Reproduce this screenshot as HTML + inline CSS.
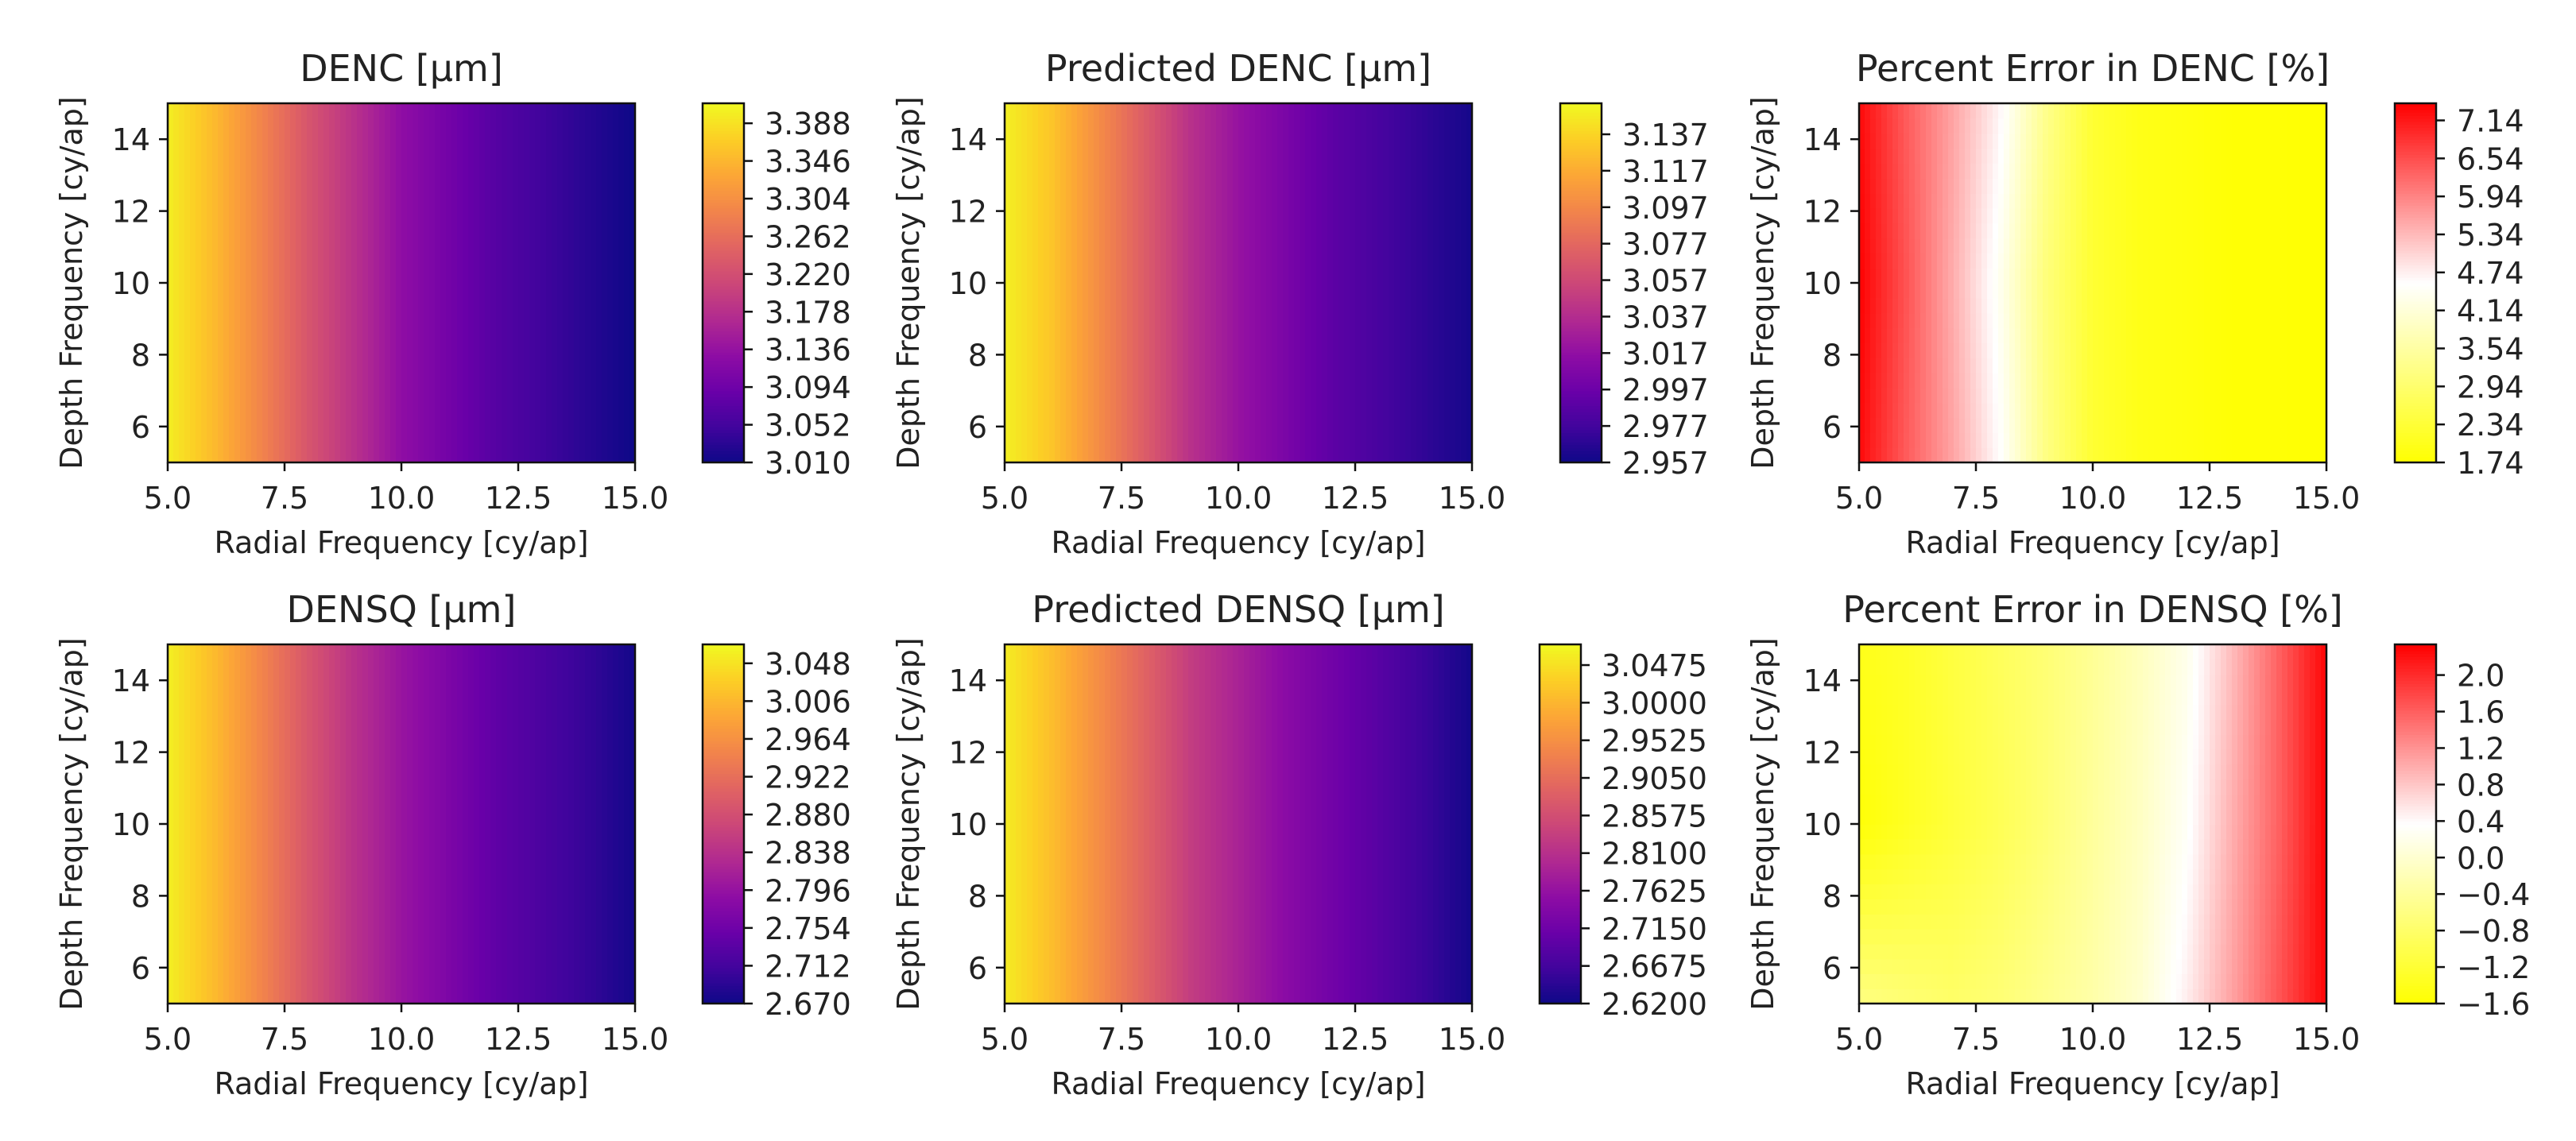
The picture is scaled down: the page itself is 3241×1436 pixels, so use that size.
<!DOCTYPE html>
<html><head><meta charset="utf-8"><style>
html,body{margin:0;padding:0;background:#fff;}
svg text{font-family:"DejaVu Sans","Liberation Sans",sans-serif;fill:#222;}
</style></head><body>
<svg id="fig" xmlns="http://www.w3.org/2000/svg" width="3241" height="1431" viewBox="0 0 3241 1431"></svg>
<script>
// ---- data ----
const radialFreq = [5,6,7,8,9,10,11,12,13,14,15];
const depthFreq = [5,10,15];
const dencValues = [
 [3.40,3.35,3.29,3.23,3.18,3.13,3.10,3.07,3.05,3.03,3.01],
 [3.40,3.35,3.29,3.23,3.18,3.13,3.10,3.07,3.05,3.03,3.01],
 [3.40,3.35,3.29,3.23,3.18,3.13,3.10,3.07,3.05,3.03,3.01]];
const predDencValues = [
 [3.15,3.13,3.10,3.07,3.04,3.02,3.005,2.99,2.98,2.97,2.96],
 [3.15,3.13,3.10,3.07,3.04,3.02,3.005,2.99,2.98,2.97,2.96],
 [3.15,3.13,3.10,3.07,3.04,3.02,3.005,2.99,2.98,2.97,2.96]];
const errDencValues = [
 [7.3,6.4,5.6,4.6,3.2,2.3,2.0,1.9,1.8,1.8,1.75],
 [7.4,6.5,5.5,4.4,3.1,2.3,2.0,1.9,1.8,1.8,1.75],
 [7.3,6.4,5.6,4.7,3.3,2.3,2.0,1.9,1.8,1.8,1.75]];
const densqValues = [
 [3.06,3.01,2.95,2.89,2.84,2.80,2.77,2.74,2.72,2.70,2.675],
 [3.06,3.01,2.95,2.89,2.84,2.80,2.77,2.74,2.72,2.70,2.675],
 [3.06,3.01,2.95,2.89,2.84,2.80,2.77,2.74,2.72,2.70,2.675]];
const predDensqValues = [
 [3.06,3.01,2.95,2.89,2.83,2.79,2.75,2.72,2.69,2.66,2.625],
 [3.06,3.01,2.95,2.89,2.83,2.79,2.75,2.72,2.69,2.66,2.625],
 [3.06,3.01,2.95,2.89,2.83,2.79,2.75,2.72,2.69,2.66,2.625]];
const errDensqValues = [
 [-0.6,-0.7,-0.8,-0.7,-0.5,-0.3,0.0,0.5,1.1,1.7,2.3],
 [-1.55,-1.35,-1.15,-0.95,-0.7,-0.4,-0.1,0.3,1.0,1.6,2.3],
 [-1.4,-1.3,-1.1,-0.9,-0.7,-0.45,-0.15,0.2,0.9,1.6,2.3]];
const cbTicksDenc = ["3.010","3.052","3.094","3.136","3.178","3.220","3.262","3.304","3.346","3.388"];
const cbTicksPredDenc = ["2.957","2.977","2.997","3.017","3.037","3.057","3.077","3.097","3.117","3.137"];
const cbTicksErrDenc = ["1.74","2.34","2.94","3.54","4.14","4.74","5.34","5.94","6.54","7.14"];
const cbTicksDensq = ["2.670","2.712","2.754","2.796","2.838","2.880","2.922","2.964","3.006","3.048"];
const cbTicksPredDensq = ["2.6200","2.6675","2.7150","2.7625","2.8100","2.8575","2.9050","2.9525","3.0000","3.0475"];
const cbTicksErrDensq = ["\u22121.6","\u22121.2","\u22120.8","\u22120.4","0.0","0.4","0.8","1.2","1.6","2.0"];
const xTicks = [5,7.5,10,12.5,15];
const yTicks = [6,8,10,12,14];

// ---- layout ----
const NS="http://www.w3.org/2000/svg";
const svg=document.getElementById('fig');
const PLASMA=["#0d0887","#41049d","#6a00a8","#8f0da4","#b12a90","#cc4778","#e16462","#f2844b","#fca636","#fcce25","#f0f921"];
const YWR=["#ffff00","#ffffff","#ff0000"];
function hex(c){return [parseInt(c.slice(1,3),16),parseInt(c.slice(3,5),16),parseInt(c.slice(5,7),16)];}
function cmap(stops,t){t=Math.max(0,Math.min(1,t));const n=stops.length-1;const i=Math.min(n-1,Math.floor(t*n));const f=t*n-i;const a=hex(stops[i]),b=hex(stops[i+1]);return 'rgb('+a.map((v,k)=>Math.round(v+(b[k]-v)*f)).join(',')+')';}
function el(tag,attrs,parent){const e=document.createElementNS(NS,tag);for(const k in attrs)e.setAttribute(k,attrs[k]);(parent||svg).appendChild(e);return e;}
function txt(s,attrs,parent){const e=el('text',attrs,parent);e.textContent=s;return e;}

const panels=[
 {name:'denc',title:'DENC [\u00b5m]',data:dencValues,ticks:cbTicksDenc,top:0.53,cm:PLASMA,px:211,py:130,cbx:884},
 {name:'predicted-denc',title:'Predicted DENC [\u00b5m]',data:predDencValues,ticks:cbTicksPredDenc,top:0.85,cm:PLASMA,px:1264,py:130,cbx:1963},
 {name:'percent-error-denc',title:'Percent Error in DENC [%]',data:errDencValues,ticks:cbTicksErrDenc,top:0.45,cm:YWR,px:2339,py:130,cbx:3013},
 {name:'densq',title:'DENSQ [\u00b5m]',data:densqValues,ticks:cbTicksDensq,top:0.5,cm:PLASMA,px:211,py:811,cbx:884},
 {name:'predicted-densq',title:'Predicted DENSQ [\u00b5m]',data:predDensqValues,ticks:cbTicksPredDensq,top:0.55,cm:PLASMA,px:1264,py:811,cbx:1937},
 {name:'percent-error-densq',title:'Percent Error in DENSQ [%]',data:errDensqValues,ticks:cbTicksErrDensq,top:0.84,cm:YWR,px:2339,py:811,cbx:3013}
];
const PW=588, PH=452, CBW=52;

function interp(arr,xs,x){for(let i=0;i<xs.length-1;i++){if(x<=xs[i+1]){const f=(x-xs[i])/(xs[i+1]-xs[i]);return arr[i]+(arr[i+1]-arr[i])*f;}}return arr[arr.length-1];}
function valueAt(data,x,y){const row=data.map(r=>interp(r,radialFreq,x));return interp(row,depthFreq,y);}

panels.forEach(p=>{
  const g=el('g',{});
  
  
  const xs=v=>p.px+(v-5)/10*PW;
  const ys=v=>p.py+PH-(v-5)/10*PH;
  const nt=p.ticks.length;
  const vmin=parseFloat(p.ticks[0].replace('\u2212','-'));
  const vstep=(parseFloat(p.ticks[nt-1].replace('\u2212','-'))-vmin)/(nt-1);
  const vmax=vmin+(nt-1+p.top)*vstep;
  const norm=v=>(v-vmin)/(vmax-vmin);
  // heatmap
  const hm=el('g',{'shape-rendering':'crispEdges'},g);
  
  
  const NX=84, NY=24;
  for(let j=0;j<NY;j++){
    const y0=5+j*10/NY, y1=5+(j+1)*10/NY;
    for(let i=0;i<NX;i++){
      const x0=5+i*10/NX, x1=5+(i+1)*10/NX;
      const v=valueAt(p.data,(x0+x1)/2,(y0+y1)/2);
      const r=el('rect',{x:xs(x0),y:ys(y1),width:xs(x1)-xs(x0)+0.8,height:ys(y0)-ys(y1)+0.8,fill:cmap(p.cm,norm(v))},hm);
      
      
    }
  }
  const fr=el('rect',{x:p.px,y:p.py,width:PW,height:PH,fill:'none',stroke:'#111','stroke-width':2.5},g);
  
  
  const t=txt(p.title,{x:p.px+PW/2,y:p.py-28,'text-anchor':'middle','font-size':46},g);
  
  
  xTicks.forEach(v=>{
    el('line',{x1:xs(v),x2:xs(v),y1:p.py+PH,y2:p.py+PH+11,stroke:'#111','stroke-width':2.5},g);
    const l=txt(v.toFixed(1),{x:xs(v),y:p.py+PH+58,'text-anchor':'middle','font-size':38},g);
    
    
  });
  yTicks.forEach(v=>{
    el('line',{x1:p.px-11,x2:p.px,y1:ys(v),y2:ys(v),stroke:'#111','stroke-width':2.5},g);
    const l=txt(String(v),{x:p.px-22,y:ys(v)+14,'text-anchor':'end','font-size':38},g);
    
    
  });
  const xl=txt('Radial Frequency [cy/ap]',{x:p.px+PW/2,y:p.py+PH+114,'text-anchor':'middle','font-size':38},g);
  
  
  const cyc=p.py+PH/2, cxx=p.px-108;
  const yl=txt('Depth Frequency [cy/ap]',{x:cxx,y:cyc,'text-anchor':'middle','font-size':38,transform:'rotate(-90 '+cxx+' '+cyc+')'},g);
  
  
  // colorbar
  const cb=el('g',{'shape-rendering':'crispEdges'},g);
  
  
  const NS_=120;
  for(let k=0;k<NS_;k++){
    const y0=p.py+PH-(k+1)*PH/NS_;
    el('rect',{x:p.cbx,y:y0,width:CBW,height:PH/NS_+0.8,fill:cmap(p.cm,(k+0.5)/NS_)},cb);
  }
  el('rect',{x:p.cbx,y:p.py,width:CBW,height:PH,fill:'none',stroke:'#111','stroke-width':2.5},g);
  const cby=v=>p.py+PH-(v-vmin)/(vmax-vmin)*PH;
  p.ticks.forEach((s,k)=>{
    const v=vmin+k*vstep;
    el('line',{x1:p.cbx+CBW,x2:p.cbx+CBW+11,y1:cby(v),y2:cby(v),stroke:'#111','stroke-width':2.5},g);
    const l=txt(s,{x:p.cbx+CBW+26,y:cby(v)+14,'font-size':38},g);
    
    
  });
});
</script>
</body></html>
